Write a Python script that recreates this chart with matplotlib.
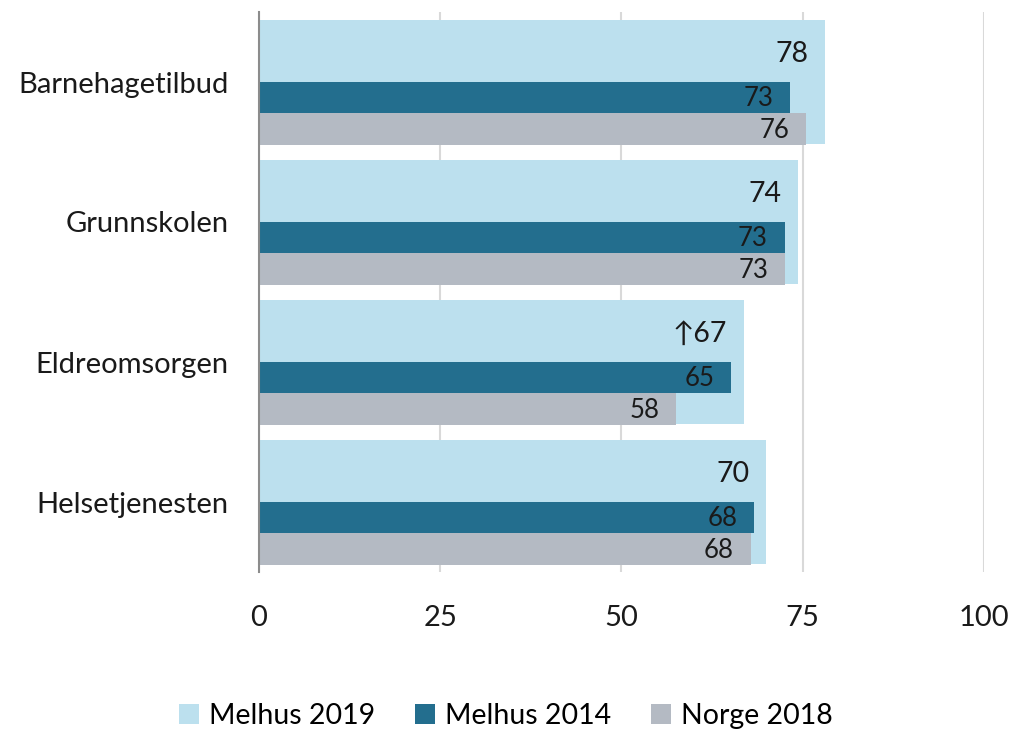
import matplotlib.pyplot as plt
import numpy as np

categories = ["Barnehagetilbud", "Grunnskolen", "Eldreomsorgen", "Helsetjenesten"]
melhus_2019 = [78.1, 74.3, 66.9, 70.0]
melhus_2014 = [73.2, 72.5, 65.1, 68.3]
norge_2018 = [75.5, 72.6, 57.5, 67.8]
labels_2019 = ["78", "74", "\u219167", "70"]
labels_2014 = ["73", "73", "65", "68"]
labels_norge = ["76", "73", "58", "68"]

c_light = "#BCE0EE"
c_dark = "#236E8E"
c_grey = "#B4BAC3"

plt.rcParams['font.family'] = ['Lato', 'DejaVu Sans']

fig = plt.figure(figsize=(10.12, 7.41), dpi=100)
W, H = 1012, 741
ax = fig.add_axes([259 / W, 1 - 572 / H, (984 - 259) / W, (572 - 12) / H])

y = np.arange(len(categories))
ax.barh(y, melhus_2019, height=0.89, color=c_light, zorder=2, label="Melhus 2019")
ax.barh(y + 0.11, melhus_2014, height=0.22, color=c_dark, zorder=3, label="Melhus 2014")
ax.barh(y + 0.335, norge_2018, height=0.225, color=c_grey, zorder=3, label="Norge 2018")

for i in range(len(categories)):
    ax.annotate(labels_2019[i], (melhus_2019[i], y[i] - 0.2), xytext=(-12, 0),
                textcoords="offset points", ha="right", va="center",
                fontsize=20.5, color="#1a1a1a", zorder=4)
    ax.annotate(labels_2014[i], (melhus_2014[i], y[i] + 0.12), xytext=(-12, 0),
                textcoords="offset points", ha="right", va="center",
                fontsize=18.5, color="#1a1a1a", zorder=4)
    ax.annotate(labels_norge[i], (norge_2018[i], y[i] + 0.345), xytext=(-12, 0),
                textcoords="offset points", ha="right", va="center",
                fontsize=18.5, color="#1a1a1a", zorder=4)

ax.set_xlim(0, 100)
ax.set_ylim(3.5, -0.5)
ax.set_xticks([0, 25, 50, 75, 100])
ax.set_yticks(y)
ax.set_yticklabels(categories)
ax.tick_params(axis="both", length=0, labelsize=21, colors="#1a1a1a")
ax.tick_params(axis="x", pad=24)
ax.tick_params(axis="y", pad=22)
ax.grid(axis="x", color="#D9D9D9", linewidth=1.5, zorder=0)
ax.set_axisbelow(True)
for s in ["top", "right", "bottom"]:
    ax.spines[s].set_visible(False)
ax.spines["left"].set_color("#8c8c8c")
ax.spines["left"].set_linewidth(1.5)
ax.spines["left"].set_zorder(5)

fig.legend(loc="lower center", bbox_to_anchor=(0.5, -0.018), ncol=3, frameon=False,
           fontsize=20.5, handlelength=0.7, handleheight=0.7, handletextpad=0.35,
           columnspacing=1.4)

fig.savefig("out.png", dpi=100)
